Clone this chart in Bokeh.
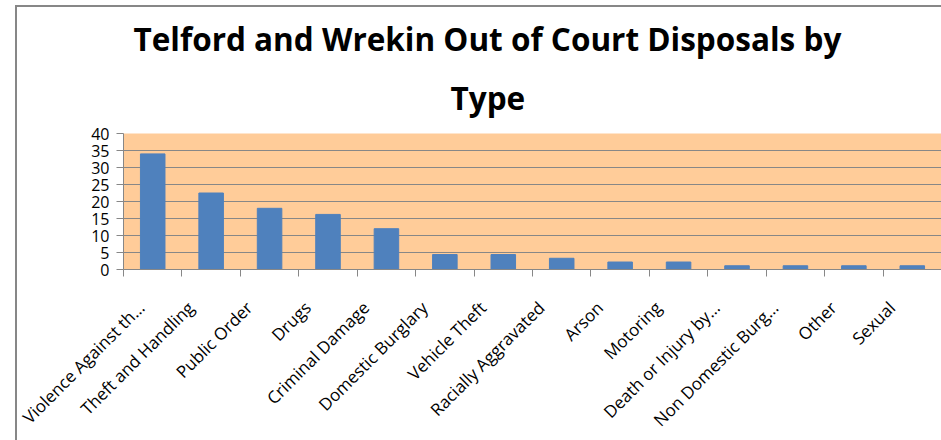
import math
from bokeh.plotting import figure
from bokeh.models import (ColumnDataSource, Range1d, LinearAxis, FixedTicker, Title)
from bokeh.embed import file_html
from bokeh.resources import INLINE

categories = ["Violence Against th\u2026", "Theft and Handling", "Public Order", "Drugs",
              "Criminal Damage", "Domestic Burglary", "Vehicle Theft", "Racially Aggravated",
              "Arson", "Motoring", "Death or Injury by\u2026", "Non Domestic Burg\u2026",
              "Other", "Sexual"]
counts = [34, 22.5, 18, 16.2, 12, 4.4, 4.4, 3.3, 2.2, 2.2, 1.1, 1.1, 1.1, 1.1]
y_ticks = [0, 5, 10, 15, 20, 25, 30, 35, 40]
title_lines = ["Telford and Wrekin Out of Court Disposals by", "Type"]

FONT = "Open Sans"
GRID = "#878787"

n = len(categories)
idx = list(range(n))
src = ColumnDataSource(dict(x=idx, val=counts))

p = figure(title=None, x_range=Range1d(-0.5, n - 0.5), y_range=Range1d(0, 40),
           frame_width=818, frame_height=136,
           min_border_left=106, min_border_top=126, min_border_right=0, min_border_bottom=166,
           x_axis_location=None, y_axis_location=None,
           output_backend="svg", toolbar_location=None)
p.margin = (5, 0, 0, 15)
p.styles = {"border-left": "2px solid #878787", "border-top": "2px solid #878787"}

p.background_fill_color = "#FFCC99"
p.border_fill_color = "white"
p.outline_line_color = None

p.vbar(x="x", top="val", width=0.42, source=src, color="#4F81BD")

# y axis
yax = LinearAxis(ticker=FixedTicker(ticks=y_ticks))
yax.axis_line_color = GRID
yax.major_tick_line_color = GRID
yax.major_tick_out = 7
yax.major_tick_in = 0
yax.minor_tick_line_color = None
yax.major_label_standoff = 7
yax.major_label_text_font = FONT
yax.major_label_text_font_size = "16px"
yax.major_label_text_color = "black"
p.add_layout(yax, "left")

# x axis: labels (major ticks, no marks) and boundary marks (minor ticks)
label_pos = [round(i - 0.35, 2) for i in idx]
bounds = [i - 0.5 for i in range(n + 1)]
xax = LinearAxis(ticker=FixedTicker(ticks=label_pos, minor_ticks=bounds))
xax.major_label_overrides = {pos: c for pos, c in zip(label_pos, categories)}
xax.axis_line_color = GRID
xax.major_tick_line_color = None
xax.major_tick_out = 0
xax.major_tick_in = 0
xax.minor_tick_line_color = GRID
xax.minor_tick_out = 7
xax.minor_tick_in = 0
xax.major_label_orientation = math.pi / 4
xax.major_label_standoff = 28
xax.major_label_text_font = FONT
xax.major_label_text_font_size = "17px"
xax.major_label_text_color = "black"
p.add_layout(xax, "below")

p.ygrid.grid_line_color = GRID
p.ygrid.ticker = FixedTicker(ticks=y_ticks)
p.xgrid.grid_line_color = None

# title: second line added first so that it sits nearest the plot
p.add_layout(Title(text=title_lines[1], align="left", offset=327, standoff=29,
                   text_font=FONT, text_font_style="bold", text_font_size="31.5px",
                   text_color="black"), "above")
p.add_layout(Title(text=title_lines[0], align="left", offset=10, standoff=0,
                   text_font=FONT, text_font_style="bold", text_font_size="31.5px",
                   text_color="black"), "above")

open("out.html", "w").write(file_html(p, INLINE))
